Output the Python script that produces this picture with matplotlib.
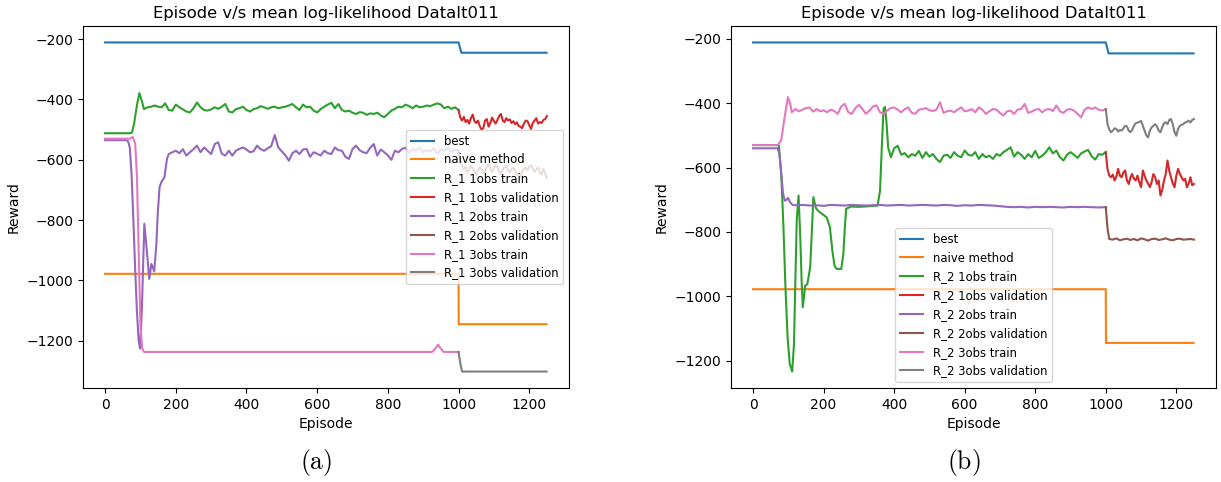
import matplotlib
matplotlib.use("Agg")
import matplotlib.pyplot as plt

plt.rcParams['mathtext.fontset'] = 'cm'

TITLE = "Episode v/s mean log-likelihood DataIt011"

# ---------------- shared ----------------
best_x = [0, 1000, 1008, 1249]
best_y = [-211, -211, -245, -245]
naive_x = [0, 1000, 1000.5, 1249]
naive_y = [-978, -978, -1145, -1145]

val_x = list(range(1000, 1251, 5))

# ---------------- panel (a): R_1 ----------------
a_1obs_train_x = [0, 70, 76, 82, 90, 97, 104] + list(range(110, 1001, 10))
a_1obs_train_y = [-512, -512, -510, -480, -420, -379, -405,
    -432, -426, -424, -420, -424, -426, -413, -435, -437, -417,
    -426, -433, -440, -443, -429, -410, -426, -435, -437, -433,
    -426, -431, -424, -415, -440, -443, -432, -429, -424, -435,
    -440, -432, -429, -422, -426, -431, -426, -424, -429, -426,
    -424, -420, -415, -426, -435, -417, -426, -424, -437, -443,
    -432, -424, -417, -411, -429, -415, -435, -440, -437, -444,
    -448, -442, -444, -451, -446, -448, -444, -453, -459, -448,
    -437, -431, -424, -426, -417, -422, -429, -420, -426, -424,
    -420, -422, -417, -413, -417, -429, -424, -431, -426, -435]

a_1obs_val_y = [-435, -460, -470, -458, -475, -468, -480, -462, -450, -472,
    -478, -470, -488, -500, -495, -470, -465, -490, -478, -460,
    -472, -480, -468, -455, -448, -470, -475, -462, -470, -466,
    -478, -472, -482, -476, -488, -490, -495, -480, -470, -472,
    -485, -498, -478, -470, -462, -480, -475, -478, -468, -465, -455]

a_2obs_train_x = [0, 60, 65, 70, 75, 80, 85, 90, 95, 99, 104, 111, 118, 125,
    131, 139, 145, 149, 154, 160, 168, 175] + list(range(180, 1001, 10))
a_2obs_train_y = [-535, -535, -538, -560, -650, -800, -960, -1100, -1200, -1226,
    -1100, -812, -900, -995, -945, -970, -880, -778, -691, -672, -658, -597,
    -581, -575, -570, -578, -565, -586, -575, -565, -553, -575,
    -559, -570, -581, -548, -542, -580, -586, -570, -586, -570,
    -564, -559, -566, -575, -572, -553, -565, -570, -562, -555,
    -518, -559, -572, -585, -603, -578, -570, -581, -566, -564,
    -590, -575, -580, -586, -570, -578, -581, -559, -568, -570,
    -590, -597, -564, -553, -568, -575, -578, -560, -548, -586,
    -566, -575, -585, -600, -570, -575, -564, -560, -575, -565,
    -570, -560, -575, -568, -572, -562, -580, -565, -570, -560,
    -575, -566, -570]

a_2obs_val_y = [-570, -600, -622, -630, -625, -640, -632, -620, -628, -640,
    -650, -635, -625, -630, -645, -638, -622, -615, -630, -640,
    -628, -618, -625, -640, -648, -632, -625, -620, -635, -642,
    -630, -626, -638, -650, -645, -655, -640, -630, -625, -635,
    -622, -618, -630, -640, -632, -626, -640, -648, -630, -645, -660]

a_3obs_train_x = [0, 70, 78, 85, 90, 95, 100, 105, 110, 925, 933, 942, 950, 958, 1000]
a_3obs_train_y = [-530, -530, -524, -545, -650, -900, -1150, -1225, -1237,
    -1237, -1228, -1213, -1226, -1237, -1237]

a_3obs_val_x = [1000, 1005, 1010, 1249]
a_3obs_val_y = [-1237, -1275, -1302, -1302]

# ---------------- panel (b): R_2 ----------------
b_1obs_train_x = [0, 73, 80, 86, 92, 98, 104, 111, 116, 120, 124, 129, 134, 138,
    141, 148, 154, 162, 167, 171, 178, 184, 196, 209, 218, 225, 231, 237,
    250, 256, 260, 264, 278, 300, 330, 353, 360, 365, 370, 374, 378, 383,
    391] + list(range(400, 1001, 10))
b_1obs_train_y = [-530, -530, -620, -780, -975, -1130, -1210, -1234, -1150,
    -950, -760, -687, -820, -960, -1034, -967, -962, -910, -790, -692, -725,
    -734, -744, -755, -786, -860, -905, -915, -915, -869, -790, -728, -721,
    -722, -720, -718, -672, -537, -418, -411, -454, -537, -568,
    -540, -532, -560, -555, -568, -558, -563, -548, -570, -552,
    -566, -558, -573, -583, -563, -560, -570, -552, -563, -568,
    -547, -560, -563, -552, -573, -558, -568, -563, -573, -558,
    -563, -552, -545, -537, -566, -552, -560, -573, -558, -568,
    -548, -570, -563, -552, -537, -556, -547, -568, -578, -560,
    -552, -560, -570, -556, -550, -545, -565, -575, -558, -560, -552]

b_1obs_val_y = [-552, -605, -625, -630, -622, -640, -628, -604, -625, -630,
    -615, -609, -640, -651, -630, -620, -635, -640, -625, -645,
    -661, -609, -625, -640, -650, -661, -645, -620, -630, -651,
    -640, -687, -670, -640, -620, -578, -610, -630, -650, -661,
    -625, -604, -620, -630, -640, -635, -661, -650, -630, -655, -651]

b_2obs_train_x = [0, 70, 75, 80, 85, 90, 95, 99, 105, 112] + list(range(120, 1001, 20))
b_2obs_train_y = [-540, -540, -560, -620, -680, -703, -700, -694, -708, -716,
    -717, -716, -718, -717, -719, -716, -717, -718, -716, -717,
    -718, -717, -716, -718, -717, -716, -718, -717, -716, -717,
    -718, -716, -717, -719, -717, -718, -716, -717, -718, -720,
    -722, -723, -722, -724, -722, -723, -722, -723, -724, -722,
    -723, -722, -723, -724, -723]

b_2obs_val_x = [1000, 1005, 1010] + list(range(1020, 1251, 10))
b_2obs_val_y = [-723, -790, -822,
    -824, -820, -826, -823, -821, -825, -822, -826,
    -820, -823, -827, -822, -821, -825, -823, -820,
    -824, -826, -822, -821, -824, -823, -822, -824]

b_3obs_train_x = [0, 70, 80, 90, 99, 105] + list(range(110, 1001, 10))
b_3obs_train_y = [-530, -530, -515, -440, -381, -400,
    -428, -418, -425, -420, -415, -413, -426, -418, -425, -422,
    -428, -420, -424, -433, -410, -402, -428, -433, -415, -405,
    -418, -433, -423, -410, -407, -428, -433, -423, -415, -413,
    -420, -428, -418, -413, -430, -433, -420, -418, -415, -422,
    -424, -420, -397, -430, -425, -423, -428, -420, -413, -425,
    -423, -418, -428, -413, -420, -433, -425, -418, -420, -430,
    -438, -425, -423, -433, -420, -418, -402, -430, -426, -420,
    -418, -428, -420, -418, -424, -407, -425, -430, -420, -418,
    -423, -433, -444, -420, -413, -418, -413, -420, -423, -418]

b_3obs_val_y = [-418, -465, -482, -490, -485, -478, -480, -488, -483, -485,
    -478, -470, -472, -485, -490, -482, -470, -462, -460, -458,
    -455, -470, -485, -500, -506, -485, -475, -470, -465, -472,
    -485, -490, -475, -462, -459, -465, -452, -449, -465, -490,
    -501, -480, -470, -468, -464, -460, -458, -454, -460, -452, -449]

colors = ['#1f77b4', '#ff7f0e', '#2ca02c', '#d62728', '#9467bd', '#8c564b', '#e377c2', '#7f7f7f']

fig = plt.figure(figsize=(12.21, 4.82), dpi=100)
ax_a = fig.add_axes([83 / 1221, 1 - 388 / 482, 486 / 1221, 362 / 482])
ax_b = fig.add_axes([731 / 1221, 1 - 388 / 482, 485 / 1221, 362 / 482])


def draw(ax, tag, series, loc):
    ax.plot(best_x, best_y, color=colors[0], label='best')
    ax.plot(naive_x, naive_y, color=colors[1], label='naive method')
    names = ['1obs train', '1obs validation', '2obs train', '2obs validation',
             '3obs train', '3obs validation']
    for i, (xs, ys) in enumerate(series):
        ax.plot(xs, ys, color=colors[i + 2], label=f'{tag} {names[i]}')
    ax.set_title(TITLE, fontsize=11.8)
    ax.set_xlabel('Episode')
    ax.set_ylabel('Reward')
    ax.set_xticks([0, 200, 400, 600, 800, 1000, 1200])
    ax.legend(loc=loc, fontsize=8.4)


draw(ax_a, 'R_1', [
    (a_1obs_train_x, a_1obs_train_y), (val_x, a_1obs_val_y),
    (a_2obs_train_x, a_2obs_train_y), (val_x, a_2obs_val_y),
    (a_3obs_train_x, a_3obs_train_y), (a_3obs_val_x, a_3obs_val_y)], 'center right')
draw(ax_b, 'R_2', [
    (b_1obs_train_x, b_1obs_train_y), (val_x, b_1obs_val_y),
    (b_2obs_train_x, b_2obs_train_y), (b_2obs_val_x, b_2obs_val_y),
    (b_3obs_train_x, b_3obs_train_y), (val_x, b_3obs_val_y)], 'lower center')

fig.text(316 / 1221, 1 - 463 / 482, r'$(\mathrm{a})$', fontsize=18.5, ha='center', va='center')
fig.text(964 / 1221, 1 - 463 / 482, r'$(\mathrm{b})$', fontsize=18.5, ha='center', va='center')

fig.savefig('out.png', dpi=100)
